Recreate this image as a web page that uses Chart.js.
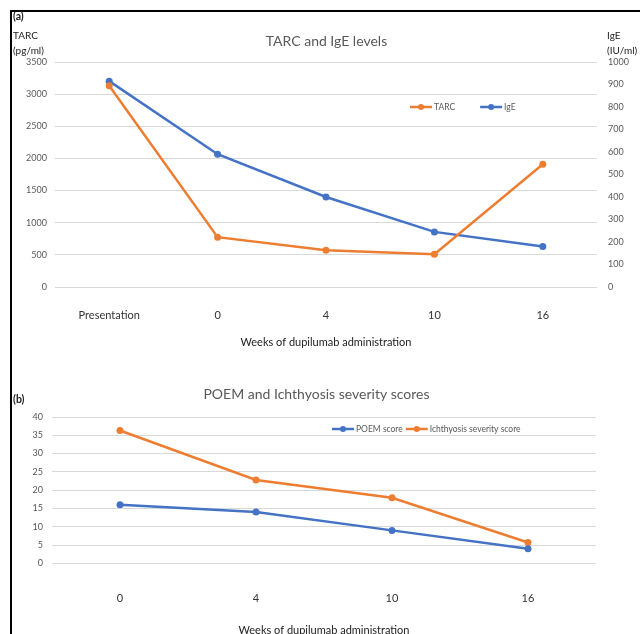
<!DOCTYPE html>
<html>
<head>
<meta charset="utf-8">
<script src="https://cdn.jsdelivr.net/npm/chart.js@4.4.1/dist/chart.umd.min.js"></script>
<style>
  html, body { margin: 0; padding: 0; background: #fff; }
  #page { position: relative; width: 640px; height: 634px; overflow: hidden; font-family: Lato, "Noto Sans", sans-serif; }
  #frame { position: absolute; left: 10px; top: 10px; width: 700px; height: 700px; border-top: 2px solid #000; border-left: 2px solid #000; }
  canvas { position: absolute; left: 0; }
  #chart-a { top: 0; }
  #chart-b { top: 360px; }
  .note { position: absolute; font-size: 10px; line-height: 14.5px; color: #222; }
  .panel { font-weight: bold; font-size: 10.5px; }
</style>
</head>
<body>
<div id="page">
  <div id="frame"></div>
  <canvas id="chart-a" width="640" height="360"></canvas>
  <canvas id="chart-b" width="640" height="290"></canvas>
  <div class="note panel" style="left:13px;top:9px">(a)</div>
  <div class="note" style="left:13px;top:28px">TARC<br>(pg/ml)</div>
  <div class="note" style="left:607px;top:28px">IgE<br>(IU/ml)</div>
  <div class="note panel" style="left:13px;top:392px">(b)</div>
</div>
<script>
// panel (a): TARC and IgE
const weeksA = ["Presentation", "0", "4", "10", "16"];
const tarcValues = [3130, 775, 570, 510, 1910];
const igeValues = [915, 590, 400, 245, 180];
const tarcTicks = { min: 0, max: 3500, step: 500 };
const igeTicks = { min: 0, max: 1000, step: 100 };

// panel (b): POEM and ichthyosis scores
const weeksB = ["0", "4", "10", "16"];
const poemValues = [16, 14, 9, 4];
const ichthyosisValues = [36.3, 22.8, 17.9, 5.7];
const scoreTicks = { min: 0, max: 40, step: 5 };

const ORANGE = "#ED7D31";
const BLUE = "#4472C4";
const GRID = "#D9D9D9";
const FONT = "Lato, 'Noto Sans', sans-serif";

Chart.defaults.font.family = FONT;
Chart.defaults.color = "#595959";

// legend drawn inside the plot, like the Excel original
const inlineLegend = {
  id: "inlineLegend",
  afterDatasetsDraw(chart, args, opts) {
    const ctx = chart.ctx;
    let x = opts.x;
    const y = opts.y;
    ctx.save();
    ctx.font = "8.5px " + FONT;
    ctx.textBaseline = "middle";
    chart.data.datasets.forEach((ds) => {
      ctx.strokeStyle = ds.borderColor;
      ctx.lineWidth = 2.5;
      ctx.beginPath();
      ctx.moveTo(x, y);
      ctx.lineTo(x + 22, y);
      ctx.stroke();
      ctx.fillStyle = ds.borderColor;
      ctx.beginPath();
      ctx.arc(x + 11, y, 3, 0, Math.PI * 2);
      ctx.fill();
      ctx.fillStyle = "#595959";
      ctx.fillText(ds.label, x + 24, y);
      x += 24 + ctx.measureText(ds.label).width + opts.gap;
    });
    ctx.restore();
  },
};

function lineSet(label, data, color, axis) {
  return {
    label,
    data,
    yAxisID: axis,
    borderColor: color,
    backgroundColor: color,
    borderWidth: 2.5,
    pointRadius: 3.5,
    pointBackgroundColor: color,
    pointBorderWidth: 0,
    tension: 0,
  };
}

function xAxis(height, labelPad, titlePadBottom) {
  return {
    offset: true,
    grid: { display: false, drawTicks: false },
    border: { display: false },
    ticks: { padding: labelPad, color: "#333", font: { size: 11 } },
    title: {
      display: true,
      text: "Weeks of dupilumab administration",
      color: "#222",
      font: { size: 11 },
      padding: { top: 0, bottom: titlePadBottom },
    },
    afterFit: (scale) => { scale.height = height; },
  };
}

function yAxis(t, position, width, pad, onChart) {
  return {
    position,
    min: t.min,
    max: t.max,
    grid: { color: GRID, lineWidth: 1, drawTicks: false, drawOnChartArea: onChart },
    border: { display: false },
    ticks: { stepSize: t.step, padding: pad, font: { size: 9 }, callback: (v) => String(v) },
    afterFit: (scale) => { scale.width = width; },
  };
}

new Chart(document.getElementById("chart-a"), {
  type: "line",
  data: {
    labels: weeksA,
    datasets: [
      lineSet("TARC", tarcValues, ORANGE, "y"),
      lineSet("IgE", igeValues, BLUE, "y1"),
    ],
  },
  options: {
    responsive: false,
    animation: false,
    layout: { padding: { left: 13, right: 0, top: 0, bottom: 0 } },
    scales: {
      x: xAxis(73, 21.4, 11.4),
      y: yAxis(tarcTicks, "left", 42, 8, true),
      y1: yAxis(igeTicks, "right", 43, 11, false),
    },
    plugins: {
      legend: { display: false },
      tooltip: { enabled: false },
      title: {
        display: true,
        text: "TARC and IgE levels",
        color: "#595959",
        font: { size: 14, weight: "normal" },
        padding: { top: 32.6, bottom: 12.6 },
      },
      inlineLegend: { x: 410, y: 107, gap: 25 },
    },
  },
  plugins: [inlineLegend],
});

new Chart(document.getElementById("chart-b"), {
  type: "line",
  data: {
    labels: weeksB,
    datasets: [
      lineSet("POEM score", poemValues, BLUE, "y"),
      lineSet("Ichthyosis severity score", ichthyosisValues, ORANGE, "y"),
    ],
  },
  options: {
    responsive: false,
    animation: false,
    layout: { padding: { left: 0, right: 7, top: 0, bottom: 0 } },
    scales: {
      x: xAxis(86.7, 28.1, 13.4),
      y: yAxis(scoreTicks, "left", 52, 9, true),
      // empty right-hand margin, no labels
      spacer: {
        position: "right",
        min: 0,
        max: 1,
        grid: { display: false, drawTicks: false },
        border: { display: false },
        ticks: { display: false },
        afterFit: (scale) => { scale.width = 37; },
      },
    },
    plugins: {
      legend: { display: false },
      tooltip: { enabled: false },
      title: {
        display: true,
        text: "POEM and Ichthyosis severity scores",
        color: "#595959",
        font: { size: 14, weight: "normal" },
        padding: { top: 25.6, bottom: 14.6 },
      },
      inlineLegend: { x: 332, y: 69, gap: 3 },
    },
  },
  plugins: [inlineLegend],
});
</script>
</body>
</html>
